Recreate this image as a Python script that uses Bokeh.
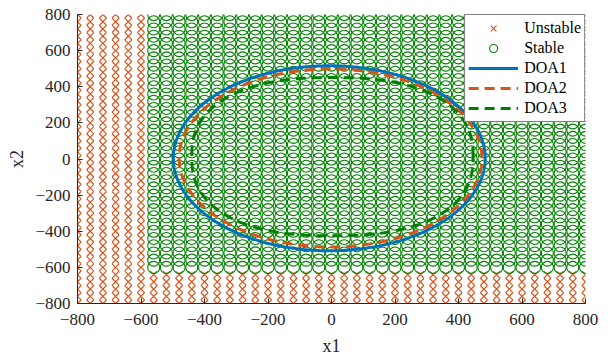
import numpy as np
from bokeh.plotting import figure
from bokeh.models import FixedTicker, Legend, LegendItem, Range1d
from bokeh.embed import file_html
from bokeh.resources import INLINE

# ---- data ----
# evaluated initial states (same grid on x1 and x2)
grid_values = [-800, -760, -720, -680, -640, -600, -560, -520, -480, -440,
               -400, -360, -320, -280, -240, -200, -160, -120, -80, -40, 0,
               40, 80, 120, 160, 200, 240, 280, 320, 360, 400, 440, 480, 520,
               560, 600, 640, 680, 720, 760, 800]
# region of the grid classified as stable
stable_x1_min = -560
stable_x2_min = -600

# DOA estimates (level-set outlines): centre, semi-axes, shape exponent
doa_names = ["DOA1", "DOA2", "DOA3"]
doa_cx = [-7, -3, 3]
doa_cy = [4, 6, 13]
doa_ax = [491, 477, 443]
doa_ay = [512, 493, 438]
doa_exp = [2.0, 2.0, 2.4]
doa_colors = ["#0072BD", "#D95319", "#008000"]
doa_dash = ["solid", "10 6", "10 6"]

tick_values = [-800, -600, -400, -200, 0, 200, 400, 600, 800]

# ---- build point sets ----
ux, uy, sx, sy = [], [], [], []
for xv in grid_values:
    for yv in grid_values:
        if xv >= stable_x1_min and yv >= stable_x2_min:
            sx.append(xv); sy.append(yv)
        else:
            ux.append(xv); uy.append(yv)

FONT = "Liberation Serif"
TXT = "#262626"

p = figure(frame_width=508, frame_height=289, output_backend="svg",
           toolbar_location=None,
           x_range=Range1d(-800, 800), y_range=Range1d(-800, 800),
           min_border_left=77, min_border_right=31, min_border_top=14,
           min_border_bottom=57)
p.outline_line_color = None
p.xgrid.visible = False
p.ygrid.visible = False
p.background_fill_color = "white"

r_u = p.scatter(ux, uy, marker="x", size=10, line_color="#D95319", line_width=1.2)
r_s = p.scatter(sx, sy, marker="circle", size=12, line_color="#008000",
                fill_color=None, line_width=1.1)

t = np.linspace(0, 2 * np.pi, 721)
line_renderers = []
for i in range(3):
    e = 2.0 / doa_exp[i]
    c, s = np.cos(t), np.sin(t)
    xs = doa_cx[i] + doa_ax[i] * np.sign(c) * np.abs(c) ** e
    ys = doa_cy[i] + doa_ay[i] * np.sign(s) * np.abs(s) ** e
    r = p.line(xs, ys, line_color=doa_colors[i], line_width=3,
               line_dash=doa_dash[i])
    line_renderers.append(r)

for ax in (p.xaxis[0], p.yaxis[0]):
    ax.ticker = FixedTicker(ticks=tick_values)
    ax.minor_tick_line_color = None
    ax.major_tick_in = 5
    ax.major_tick_out = 0
    ax.axis_line_color = TXT
    ax.major_tick_line_color = TXT
    ax.major_label_text_font = FONT
    ax.major_label_text_font_size = "17px"
    ax.major_label_text_color = TXT
    ax.axis_label_text_font = FONT
    ax.axis_label_text_font_size = "18px"
    ax.axis_label_text_font_style = "normal"
    ax.axis_label_text_color = TXT

p.xaxis.axis_label = "x1"
p.yaxis.axis_label = "x2"
p.xaxis.major_label_standoff = 10
p.yaxis.major_label_standoff = 7
p.xaxis.axis_label_standoff = 8
p.yaxis.axis_label_standoff = 5

items = [LegendItem(label="Unstable", renderers=[r_u]),
         LegendItem(label="Stable", renderers=[r_s])]
for name, r in zip(doa_names, line_renderers):
    items.append(LegendItem(label=name, renderers=[r]))
legend = Legend(items=items, location="top_right")
legend.margin = 0
legend.padding = 3
legend.spacing = 0
legend.label_height = 20
legend.glyph_height = 20
legend.glyph_width = 50
legend.label_standoff = 6
legend.label_text_font = FONT
legend.label_text_font_size = "16px"
legend.label_text_color = "black"
legend.border_line_color = "black"
legend.border_line_width = 1
legend.background_fill_color = "white"
legend.background_fill_alpha = 1.0
p.add_layout(legend, "center")

open("out.html", "w").write(file_html(p, INLINE))
